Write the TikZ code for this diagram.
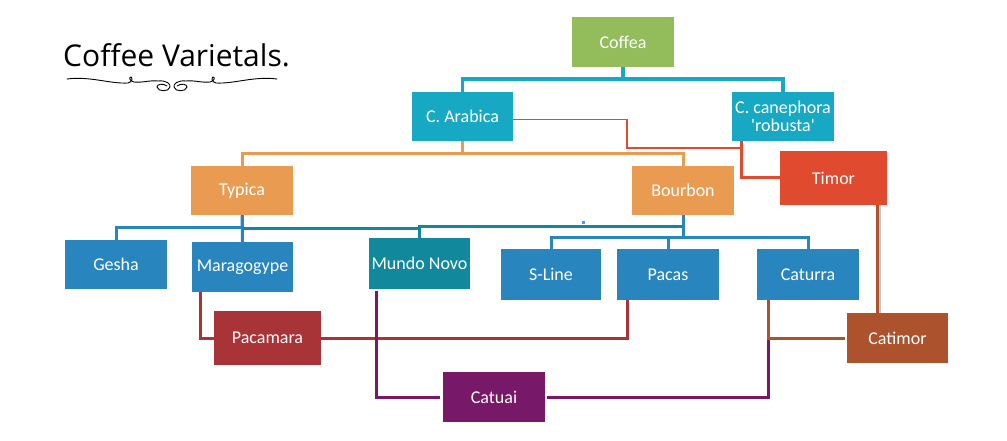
\documentclass[tikz,border=0pt]{standalone}
\usepackage{fontspec}
\setmainfont{Carlito}
\newfontfamily\boxfont{Carlito}
\newfontfamily\titlefont{Open Sans}
\usetikzlibrary{calc}

\definecolor{cGreen}{HTML}{93BC5A}
\definecolor{cTeal}{HTML}{17A9C4}
\definecolor{cOrange}{HTML}{EA9B52}
\definecolor{cRed}{HTML}{E04A2F}
\definecolor{cBlue}{HTML}{2985BD}
\definecolor{cDeepTeal}{HTML}{11889C}
\definecolor{cWine}{HTML}{A93437}
\definecolor{cPurple}{HTML}{771868}
\definecolor{cRust}{HTML}{AC522C}
\definecolor{cDot}{HTML}{4A9BF5}

\tikzset{
  variety/.style={rectangle, fill=#1, text=white, inner sep=0pt, align=center,
    font=\boxfont\fontsize{18}{18}\selectfont},
  link/.style={draw=#1, line width=3pt},
  thinlink/.style={draw=#1, line width=1.4pt}
}

\begin{document}
\begin{tikzpicture}[x=1pt, y=-1pt]
    \useasboundingbox (0,0) rectangle (1007,441);
    % title
    \node[anchor=base west, inner sep=0pt, font=\titlefont\fontsize{30}{30}\selectfont] (title) at (63,67) {Coffee Varietals.};
    \foreach \m/\s in {1/0,-1/344}
    \draw[xshift=\s pt, xscale=\m, line width=0.9pt, line cap=round]
      (67,79) .. controls (90,76) and (110,84) .. (128,83)
      .. controls (132,82) and (133,78) .. (131,77) .. controls (129,77) and (129,81) .. (134,82)
      .. controls (142,83) and (150,80) .. (158,81)
      .. controls (166,80) and (171,84) .. (170,87) .. controls (169,92) and (158,92) .. (157,87)
      .. controls (157,84) and (163,83) .. (167,86);
    % species
    \node[variety=cGreen, minimum width=102pt, minimum height=50pt] (coffea) at (623,42) {Coffea};
    \node[variety=cTeal, minimum width=101pt, minimum height=49pt] (arabica) at (462.5,116.5) {C. Arabica};
    \node[variety=cTeal, minimum width=102pt, minimum height=49pt] (canephora) at (783,116.5) {C. canephora\\'robusta'};
    \node[variety=cRed, minimum width=107pt, minimum height=54pt] (timor) at (833.5,178) {Timor};
    % varietals
    \node[variety=cOrange, minimum width=102pt, minimum height=49pt] (typica) at (242,190.5) {Typica};
    \node[variety=cOrange, minimum width=102pt, minimum height=49pt] (bourbon) at (683,190.5) {Bourbon};
    \node[variety=cBlue, minimum width=102pt, minimum height=49pt] (gesha) at (116,264.5) {Gesha};
    \node[variety=cBlue, minimum width=101pt, minimum height=50pt] (maragogype) at (242.5,267) {Maragogype};
    \node[variety=cDeepTeal, minimum width=101pt, minimum height=51pt] (mundo) at (419.5,263.5) {Mundo Novo};
    \node[variety=cBlue, minimum width=100pt, minimum height=51pt] (sline) at (551,274.5) {S-Line};
    \node[variety=cBlue, minimum width=102pt, minimum height=51pt] (pacas) at (668,274.5) {Pacas};
    \node[variety=cBlue, minimum width=102pt, minimum height=51pt] (caturra) at (808,274.5) {Caturra};
    \node[variety=cWine, minimum width=107pt, minimum height=54pt] (pacamara) at (267.5,338) {Pacamara};
    \node[variety=cRust, minimum width=101pt, minimum height=50pt] (catimor) at (897.5,338) {Catimor};
    \node[variety=cPurple, minimum width=102pt, minimum height=50pt] (catuai) at (494,397) {Catuai};
    % species links
    \foreach \n in {arabica,canephora}
    \draw[link=cTeal, line width=3.5pt] (coffea.south) -- ++(0,12) -| (\n.north);
    \foreach \n in {typica,bourbon}
    \draw[link=cOrange] (arabica.south) -- ++(0,12) -| (\n.north);
    \draw[thinlink=cRed] ([yshift=-3pt]arabica.east) -| (627,148) -- (741,148);
    \draw[link=cRed] ([xshift=-42pt]canephora.south) |- (timor.west);
    % typica / bourbon links
    \draw[link=cBlue] (typica.south) -- ++(0,12) -| (gesha.north);
    \draw[link=cBlue] (typica.south) -- (maragogype.north);
    \draw[link=cDeepTeal] (typica.south) ++(0,13) -| (mundo.north);
    \draw[link=cDeepTeal] (bourbon.south) -- ++(0,11) -| (mundo.north);
    \foreach \n in {sline,pacas,caturra}
    \draw[link=cBlue] (bourbon.south) -- ++(0,22) -| (\n.north);
    \fill[cDot] (582,221) rectangle (585,224);
    % hybrids
    \draw[link=cWine] ([xshift=-42.5pt]maragogype.south) |- (pacamara.west);
    \draw[link=cWine] (pacamara.east) -| ([xshift=-41pt]pacas.south);
    \path ([xshift=-40pt]caturra.south) coordinate (cs);
    \coordinate (jn) at (cs |- catimor.west);
    \draw[link=cPurple, shorten <=2pt] ([xshift=-43.5pt]mundo.south) |- ([xshift=-3pt]catuai.west);
    \draw[link=cPurple] ([xshift=2pt]catuai.east) -| (jn);
    \draw[link=cRust] (cs) |- ([xshift=-2pt]catimor.west);
    \path ([xshift=44pt]timor.south) coordinate (ts);
    \draw[gray!45, line width=3pt] ([xshift=1.5pt]ts) -- ([xshift=1.5pt]ts |- catimor.north);
    \draw[link=cRust] (ts) -- (ts |- catimor.north);
\end{tikzpicture}
\end{document}
